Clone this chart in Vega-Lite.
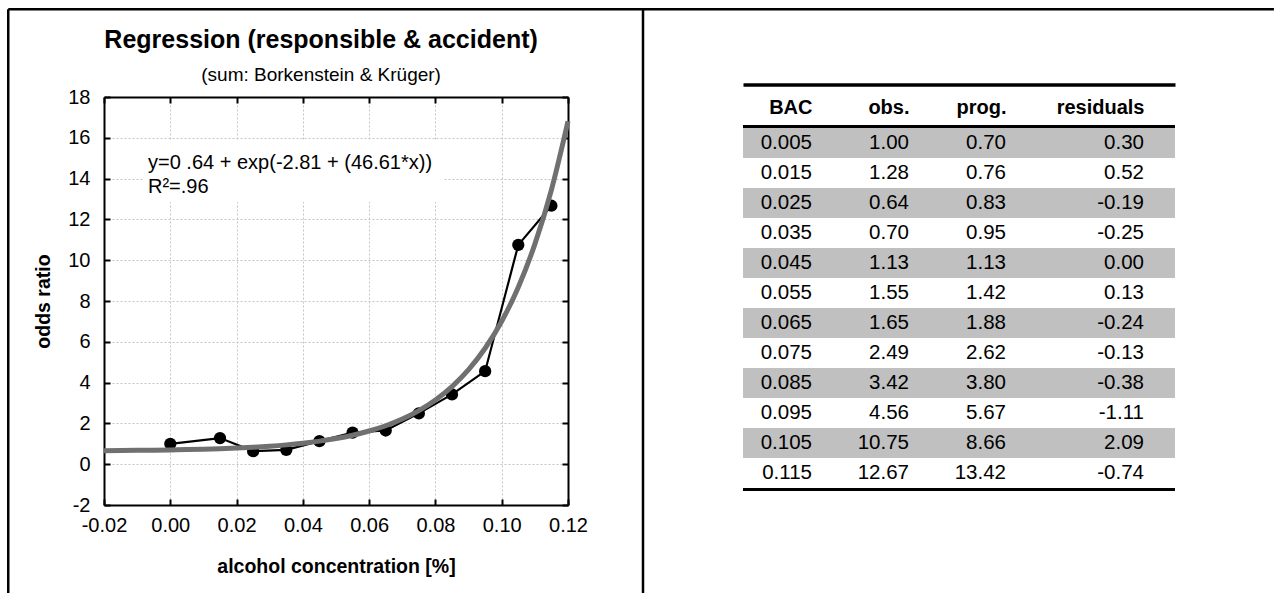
{
  "$schema": "https://vega.github.io/schema/vega-lite/v6.json",
  "background": "white",
  "padding": {"left": 7, "top": 7, "right": 0, "bottom": 0},
  "config": {
    "font": "Liberation Sans",
    "view": {"stroke": null},
    "locale": {"number": {"decimal": ".", "thousands": ",", "grouping": [3], "currency": ["$", ""], "minus": "-"}}
  },
  "datasets": {
    "obs": [
      {"x": 0.000, "odds": 1.00}, {"x": 0.015, "odds": 1.28}, {"x": 0.025, "odds": 0.64},
      {"x": 0.035, "odds": 0.70}, {"x": 0.045, "odds": 1.13}, {"x": 0.055, "odds": 1.55},
      {"x": 0.065, "odds": 1.65}, {"x": 0.075, "odds": 2.49}, {"x": 0.085, "odds": 3.42},
      {"x": 0.095, "odds": 4.56}, {"x": 0.105, "odds": 10.75}, {"x": 0.115, "odds": 12.67}
    ],
    "fit": [
      {"x": -0.02, "odds": 0.6637}, {"x": -0.015, "odds": 0.6699}, {"x": -0.01, "odds": 0.6778},
      {"x": -0.005, "odds": 0.6877}, {"x": 0.0, "odds": 0.7002}, {"x": 0.005, "odds": 0.7160},
      {"x": 0.01, "odds": 0.7359}, {"x": 0.015, "odds": 0.7611}, {"x": 0.02, "odds": 0.7929},
      {"x": 0.025, "odds": 0.8330}, {"x": 0.03, "odds": 0.8837}, {"x": 0.035, "odds": 0.9477},
      {"x": 0.04, "odds": 1.0284}, {"x": 0.045, "odds": 1.1304}, {"x": 0.05, "odds": 1.2591},
      {"x": 0.055, "odds": 1.4216}, {"x": 0.06, "odds": 1.6267}, {"x": 0.065, "odds": 1.8856},
      {"x": 0.07, "odds": 2.2126}, {"x": 0.075, "odds": 2.6253}, {"x": 0.08, "odds": 3.1463},
      {"x": 0.085, "odds": 3.8040}, {"x": 0.09, "odds": 4.6345}, {"x": 0.095, "odds": 5.6827},
      {"x": 0.1, "odds": 7.0061}, {"x": 0.105, "odds": 8.6769}, {"x": 0.11, "odds": 10.786},
      {"x": 0.115, "odds": 13.450}, {"x": 0.12, "odds": 16.811}
    ],
    "table": [
      {"BAC": 0.005, "obs": 1.00, "prog": 0.70, "resid": 0.30},
      {"BAC": 0.015, "obs": 1.28, "prog": 0.76, "resid": 0.52},
      {"BAC": 0.025, "obs": 0.64, "prog": 0.83, "resid": -0.19},
      {"BAC": 0.035, "obs": 0.70, "prog": 0.95, "resid": -0.25},
      {"BAC": 0.045, "obs": 1.13, "prog": 1.13, "resid": 0.00},
      {"BAC": 0.055, "obs": 1.55, "prog": 1.42, "resid": 0.13},
      {"BAC": 0.065, "obs": 1.65, "prog": 1.88, "resid": -0.24},
      {"BAC": 0.075, "obs": 2.49, "prog": 2.62, "resid": -0.13},
      {"BAC": 0.085, "obs": 3.42, "prog": 3.80, "resid": -0.38},
      {"BAC": 0.095, "obs": 4.56, "prog": 5.67, "resid": -1.11},
      {"BAC": 0.105, "obs": 10.75, "prog": 8.66, "resid": 2.09},
      {"BAC": 0.115, "obs": 12.67, "prog": 13.42, "resid": -0.74}
    ]
  },
  "hconcat": [
    {
      "width": 464,
      "height": 408,
      "view": {"stroke": null},
      "resolve": {"axis": {"x": "independent", "y": "independent"}},
      "layer": [
        {
          "data": {"values": [{}]},
          "mark": {"type": "rect", "fill": "white", "stroke": null},
          "encoding": {
            "x": {"datum": -0.0082, "type": "quantitative", "axis": null},
            "x2": {"datum": 0.0823},
            "y": {"datum": 15.89, "type": "quantitative", "axis": null},
            "y2": {"datum": 12.85}
          }
        },
        {
          "data": {"name": "obs"},
          "mark": {"type": "line", "color": "black", "strokeWidth": 2.2, "point": {"filled": true, "color": "black", "size": 150, "opacity": 1}},
          "encoding": {
            "x": {
              "field": "x", "type": "quantitative", "title": "alcohol concentration [%]",
              "scale": {"domain": [-0.02, 0.12], "nice": false, "zero": false},
              "axis": {
                "orient": "bottom", "values": [-0.02, 0, 0.02, 0.04, 0.06, 0.08, 0.1, 0.12], "format": ".2f",
                "grid": true, "gridColor": "#c4c4c4", "gridDash": [2, 2], "gridWidth": 1,
                "domain": true, "domainColor": "black", "domainWidth": 2,
                "ticks": true, "tickColor": "black", "tickWidth": 2, "tickSize": -6,
                "labelFontSize": 20, "labelColor": "black", "labelPadding": 16.5, "labelFlush": false, "labelOverlap": false,
                "titleFontSize": 19.5, "titleFontWeight": "bold", "titleColor": "black", "titlePadding": 22
              }
            },
            "y": {
              "field": "odds", "type": "quantitative", "title": "odds ratio",
              "scale": {"domain": [-2, 18], "nice": false, "zero": false},
              "axis": {
                "orient": "left", "values": [-2, 0, 2, 4, 6, 8, 10, 12, 14, 16, 18], "format": "d",
                "grid": true, "gridColor": "#c4c4c4", "gridDash": [2, 2], "gridWidth": 1,
                "domain": true, "domainColor": "black", "domainWidth": 2,
                "ticks": true, "tickColor": "black", "tickWidth": 2, "tickSize": -6,
                "labelFontSize": 20, "labelColor": "black", "labelPadding": 20, "labelFlush": false, "labelOverlap": false,
                "titleFontSize": 19.5, "titleFontWeight": "bold", "titleColor": "black", "titlePadding": 14
              }
            }
          }
        },
        {
          "data": {"name": "fit"},
          "mark": {"type": "line", "color": "#707070", "strokeWidth": 5, "interpolate": "monotone"},
          "encoding": {
            "x": {
              "field": "x", "type": "quantitative",
              "axis": {
                "orient": "top", "values": [-0.02, 0, 0.02, 0.04, 0.06, 0.08, 0.1, 0.12],
                "labels": false, "grid": false, "title": null,
                "domain": true, "domainColor": "black", "domainWidth": 2,
                "ticks": true, "tickColor": "black", "tickWidth": 2, "tickSize": -6
              }
            },
            "y": {
              "field": "odds", "type": "quantitative",
              "axis": {
                "orient": "right", "values": [-2, 0, 2, 4, 6, 8, 10, 12, 14, 16, 18],
                "labels": false, "grid": false, "title": null,
                "domain": true, "domainColor": "black", "domainWidth": 2,
                "ticks": true, "tickColor": "black", "tickWidth": 2, "tickSize": -6
              }
            }
          }
        },
        {
          "data": {"values": [{}]},
          "mark": {"type": "text", "text": "y=0 .64 + exp(-2.81 + (46.61*x))", "align": "left", "baseline": "middle", "fontSize": 20, "color": "black"},
          "encoding": {
            "x": {"datum": -0.00672, "type": "quantitative", "axis": null},
            "y": {"datum": 14.765, "type": "quantitative", "axis": null}
          }
        },
        {
          "data": {"values": [{}]},
          "mark": {"type": "text", "text": "R²=.96", "align": "left", "baseline": "middle", "fontSize": 20, "color": "black"},
          "encoding": {
            "x": {"datum": -0.00672, "type": "quantitative", "axis": null},
            "y": {"datum": 13.588, "type": "quantitative", "axis": null}
          }
        },
        {
          "data": {"values": [{}]},
          "mark": {"type": "text", "text": "Regression (responsible & accident)", "align": "center", "baseline": "alphabetic", "fontSize": 25, "fontWeight": "bold", "color": "black"},
          "encoding": {
            "x": {"datum": 0.0455, "type": "quantitative", "axis": null},
            "y": {"datum": 20.40, "type": "quantitative", "axis": null}
          }
        },
        {
          "data": {"values": [{}]},
          "mark": {"type": "text", "text": "(sum: Borkenstein & Krüger)", "align": "center", "baseline": "alphabetic", "fontSize": 19, "color": "black"},
          "encoding": {
            "x": {"datum": 0.0455, "type": "quantitative", "axis": null},
            "y": {"datum": 18.80, "type": "quantitative", "axis": null}
          }
        },
        {
          "data": {"values": [{}]},
          "mark": {"type": "rule", "color": "black", "strokeWidth": 2.5},
          "encoding": {
            "x": {"datum": -0.04889, "type": "quantitative", "axis": null},
            "y": {"datum": 22.3015, "type": "quantitative", "axis": null},
            "y2": {"datum": -6.31}
          }
        },
        {
          "data": {"values": [{}]},
          "mark": {"type": "rule", "color": "black", "strokeWidth": 2.5},
          "encoding": {
            "x": {"datum": 0.14263, "type": "quantitative", "axis": null},
            "y": {"datum": 22.3015, "type": "quantitative", "axis": null},
            "y2": {"datum": -6.31}
          }
        },
        {
          "data": {"values": [{}]},
          "mark": {"type": "rule", "color": "black", "strokeWidth": 2.5},
          "encoding": {
            "x": {"datum": -0.04889, "type": "quantitative", "axis": null},
            "x2": {"datum": 0.3330},
            "y": {"datum": 22.3015, "type": "quantitative", "axis": null}
          }
        }
      ]
    },
    {
      "width": 432,
      "height": 391,
      "view": {"stroke": null},
      "data": {"name": "table"},
      "layer": [
        {
          "transform": [{"filter": {"field": "BAC", "oneOf": [0.005, 0.025, 0.045, 0.065, 0.085, 0.105]}}],
          "mark": {"type": "rect", "fill": "#c0c0c0", "stroke": null},
          "encoding": {
            "x": {
              "datum": 0, "type": "quantitative",
              "scale": {"domain": [0, 1], "nice": false, "zero": false},
              "axis": {
                "orient": "top", "offset": 12.5, "values": [0.1597, 0.3843, 0.6088, 0.9282],
                "labelExpr": "datum.value < 0.2 ? 'BAC' : datum.value < 0.5 ? 'obs.' : datum.value < 0.7 ? 'prog.' : 'residuals'",
                "title": null, "grid": false, "ticks": false, "tickSize": 0,
                "domain": true, "domainColor": "black", "domainWidth": 3.5,
                "labelAlign": "right", "labelBaseline": "middle", "labelPadding": -23,
                "labelFontSize": 20, "labelFontWeight": "bold", "labelColor": "black",
                "labelFlush": false, "labelOverlap": false
              }
            },
            "x2": {"datum": 1},
            "y": {
              "field": "BAC", "type": "ordinal", "axis": null,
              "scale": {"domain": [0.005, 0.015, 0.025, 0.035, 0.045, 0.055, 0.065, 0.075, 0.085, 0.095, 0.105, 0.115], "paddingInner": 0, "paddingOuter": 0.51667, "align": 1}
            }
          }
        },
        {
          "mark": {"type": "text", "align": "right", "baseline": "middle", "fontSize": 20.5, "color": "black"},
          "encoding": {
            "x": {"datum": 0.1597, "type": "quantitative"},
            "y": {"field": "BAC", "type": "ordinal", "axis": null},
            "text": {"field": "BAC", "type": "quantitative", "format": ".3f"}
          }
        },
        {
          "mark": {"type": "text", "align": "right", "baseline": "middle", "fontSize": 20.5, "color": "black"},
          "encoding": {
            "x": {"datum": 0.3843, "type": "quantitative"},
            "y": {"field": "BAC", "type": "ordinal", "axis": null},
            "text": {"field": "obs", "type": "quantitative", "format": ".2f"}
          }
        },
        {
          "mark": {"type": "text", "align": "right", "baseline": "middle", "fontSize": 20.5, "color": "black"},
          "encoding": {
            "x": {"datum": 0.6088, "type": "quantitative"},
            "y": {"field": "BAC", "type": "ordinal", "axis": null},
            "text": {"field": "prog", "type": "quantitative", "format": ".2f"}
          }
        },
        {
          "mark": {"type": "text", "align": "right", "baseline": "middle", "fontSize": 20.5, "color": "black"},
          "encoding": {
            "x": {"datum": 0.9282, "type": "quantitative"},
            "y": {"field": "BAC", "type": "ordinal", "axis": null},
            "text": {"field": "resid", "type": "quantitative", "format": ".2f"}
          }
        },
        {
          "transform": [{"filter": {"field": "BAC", "equal": 0.005}}],
          "mark": {"type": "rule", "color": "black", "strokeWidth": 3, "yOffset": -1.5},
          "encoding": {
            "x": {"datum": 0, "type": "quantitative"},
            "x2": {"datum": 1},
            "y": {"field": "BAC", "type": "ordinal", "bandPosition": 0, "axis": null}
          }
        },
        {
          "transform": [{"filter": {"field": "BAC", "equal": 0.115}}],
          "mark": {"type": "rule", "color": "black", "strokeWidth": 3, "yOffset": 1.5},
          "encoding": {
            "x": {"datum": 0, "type": "quantitative"},
            "x2": {"datum": 1},
            "y": {"field": "BAC", "type": "ordinal", "bandPosition": 1, "axis": null}
          }
        }
      ]
    }
  ],
  "spacing": 175,
  "bounds": "flush"
}
